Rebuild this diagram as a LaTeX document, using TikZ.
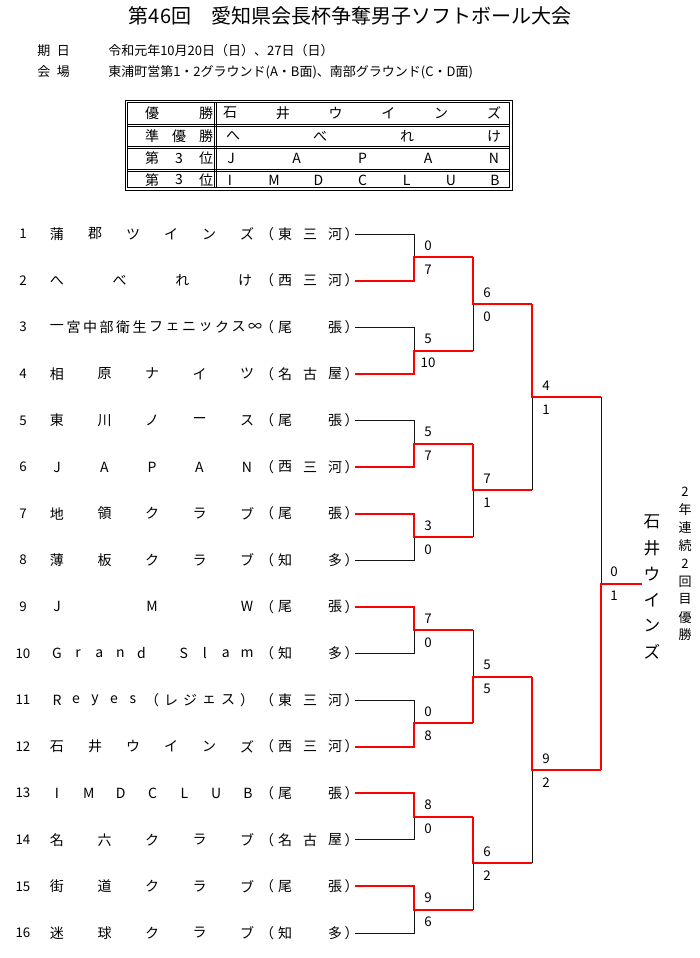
\documentclass[tikz,border=0pt]{standalone}
\usepackage{fontspec}
\setmainfont{Noto Sans CJK JP}
\usetikzlibrary{calc}
\definecolor{winred}{RGB}{255,0,0}
\definecolor{loseblk}{RGB}{20,20,20}

\newcommand\spreadtxt[6]{%
  \foreach \ch [count=\k] in {#6} {%
    \pgfmathsetmacro\tmX{#3+(\k-1)*(#4-#3)/(#2-1)}%
    \node[txt] (#1-\k) at (\tmX,#5) {\ch};
  }%
}
\newcommand\spreadvtxt[7]{%
  \foreach \ch [count=\k] in {#6} {%
    \pgfmathsetmacro\tmV{#4+(\k-1)*(#5-#4)/(#2-1)}%
    \node[#7] (#1-\k) at (#3,\tmV) {\ch};
  }%
}
\newcommand\teamrow[6]{%
  \pgfmathsetmacro\tmY{234+(#1-1)*46.6}%
  \node[num] (no#1) at (23,\tmY) {#1};
  \spreadtxt{nm#1}{#2}{57}{#3}{\tmY}{#4}
  \node[txt] (lp#1) at (267,\tmY) {（};
  \spreadtxt{rg#1}{#5}{285}{335}{\tmY}{#6}
  \node[txt] (rp#1) at (351.5,\tmY) {）};
}

\begin{document}
\begin{tikzpicture}[x=0.75pt,y=-0.75pt,
  txt/.style={font=\fontsize{10.5}{12}\selectfont, inner sep=0pt, anchor=center},
  info/.style={font=\fontsize{9.75}{12}\selectfont, inner sep=0pt, anchor=west},
  num/.style={font=\fontsize{10}{12}\selectfont, inner sep=0pt},
  score/.style={font=\fontsize{10}{12}\selectfont, inner sep=0pt},
  champ/.style={font=\fontsize{12.5}{14}\selectfont, inner sep=0pt},
  note/.style={font=\fontsize{9.75}{12}\selectfont, inner sep=0pt},
  lose/.style={draw=loseblk, line width=0.75pt},
  win/.style={draw=winred, line width=1.5pt},
  tbl/.style={draw=black, line width=0.6pt},
]
\useasboundingbox (0,0) rectangle (700,958);

% Title and info
\node[font=\fontsize{15}{18}\selectfont, inner sep=0pt] (title) at (350,16) {第46回　愛知県会長杯争奪男子ソフトボール大会};
\node[info] (lbl1) at (37,51) {期\hspace{5pt}日};
\node[info] (val1) at (108,51) {令和元年10月20日（日）、27日（日）};
\node[info] (lbl2) at (37,72) {会\hspace{5pt}場};
\node[info] (val2) at (108,72) {東浦町営第1・2グラウンド(A・B面)、南部グラウンド(C・D面)};

% Results table
\draw[tbl] (125,100) rectangle (512,190);
\draw[tbl] (127.5,102.5) rectangle (509.5,187.5);
\foreach \yy in {124,126.5,146,148.5,169,171.5} { \draw[tbl] (127.5,\yy) -- (509.5,\yy); }
\foreach \xx in {214,216.5} { \draw[tbl] (\xx,102.5) -- (\xx,187.5); }
\node[txt] (r1a) at (152,113) {優};
\node[txt] (r1b) at (206,113) {勝};
\node[txt] (r2a) at (152,136) {準};
\node[txt] (r2b) at (179,136) {優};
\node[txt] (r2c) at (206,136) {勝};
\node[txt] (r3a) at (152,158.5) {第};
\node[txt] (r3b) at (179,158.5) {3};
\node[txt] (r3c) at (206,158.5) {位};
\node[txt] (r4a) at (152,180) {第};
\node[txt] (r4b) at (179,180) {3};
\node[txt] (r4c) at (206,180) {位};
\spreadtxt{v1}{6}{230}{494}{113}{石,井,ウ,イ,ン,ズ}
\spreadtxt{v2}{4}{233}{494}{136}{へ,べ,れ,け}
\spreadtxt{v3}{5}{231}{494}{158.5}{J,A,P,A,N}
\spreadtxt{v4}{7}{230}{495}{180}{I,M,D,C,L,U,B}

% Teams
\teamrow{1}{6}{247}{蒲,郡,ツ,イ,ン,ズ}{3}{東,三,河}
\teamrow{2}{4}{245}{へ,べ,れ,け}{3}{西,三,河}
\teamrow{3}{13}{255}{一,宮,中,部,衛,生,フ,ェ,ニ,ッ,ク,ス,∞}{2}{尾,張}
\teamrow{4}{5}{247}{相,原,ナ,イ,ツ}{3}{名,古,屋}
\teamrow{5}{5}{247}{東,川,ノ,ー,ス}{2}{尾,張}
\teamrow{6}{5}{247}{J,A,P,A,N}{3}{西,三,河}
\teamrow{7}{5}{247}{地,領,ク,ラ,ブ}{2}{尾,張}
\teamrow{8}{5}{247}{薄,板,ク,ラ,ブ}{2}{知,多}
\teamrow{9}{3}{247}{J,M,W}{2}{尾,張}
% row 10
\node[num] (no10) at (23,653.4) {10};
\spreadtxt{nm10a}{5}{57}{141.4}{653.4}{G,r,a,n,d}
\spreadtxt{nm10b}{4}{183.7}{247}{653.4}{S,l,a,m}
\node[txt] (lp10) at (267,653.4) {（};
\spreadtxt{rg10}{2}{285}{335}{653.4}{知,多}
\node[txt] (rp10) at (351.5,653.4) {）};
\teamrow{11}{11}{247}{R,e,y,e,s,（,レ,ジ,ェ,ス,）}{3}{東,三,河}
\teamrow{12}{6}{247}{石,井,ウ,イ,ン,ズ}{3}{西,三,河}
\teamrow{13}{7}{248}{I,M,D,C,L,U,B}{2}{尾,張}
\teamrow{14}{5}{247}{名,六,ク,ラ,ブ}{3}{名,古,屋}
\teamrow{15}{5}{247}{街,道,ク,ラ,ブ}{2}{尾,張}
\teamrow{16}{5}{247}{迷,球,ク,ラ,ブ}{2}{知,多}

% Bracket coordinates
\foreach \i in {1,...,16} {
  \pgfmathsetmacro\tmY{234+(\i-1)*46.6}
  \coordinate (a\i) at (355,\tmY);
  \coordinate (b\i) at (414,\tmY);
}
\foreach \k in {1,...,8} {
  \pgfmathsetmacro\tmY{234+(2*\k-1.5)*46.6}
  \coordinate (m\k) at (414,\tmY);
  \coordinate (mo\k) at (473,\tmY);
}
\foreach \k in {1,...,4} {
  \pgfmathsetmacro\tmY{234+(4*\k-2.5)*46.6}
  \coordinate (q\k) at (473,\tmY);
  \coordinate (qo\k) at (532,\tmY);
}
\foreach \k in {1,2} {
  \pgfmathsetmacro\tmY{234+(8*\k-4.5)*46.6}
  \coordinate (s\k) at (532,\tmY);
  \coordinate (so\k) at (601,\tmY);
}
\coordinate (f) at (601,583.5);
\coordinate (fo) at (642,583.5);

% Losing paths (black)
\foreach \t/\k in {1/1,3/2,5/3,8/4,10/5,11/6,14/7,16/8} {
  \draw[lose] (a\t) -- (b\t) -- (m\k);
}
\draw[lose] (mo2) -- (q1);
\draw[lose] (mo4) -- (q2);
\draw[lose] (mo5) -- (q3);
\draw[lose] (mo8) -- (q4);
\draw[lose] (qo2) -- (s1);
\draw[lose] (qo4) -- (s2);
\draw[lose] (so1) -- (f);

% Winning paths (red)
\foreach \t/\k in {2/1,4/2,6/3,7/4,9/5,12/6,13/7,15/8} {
  \draw[win] (a\t) -- (b\t) -- (m\k) -- (mo\k);
}
\draw[win] (mo1) -- (q1) -- (qo1);
\draw[win] (mo3) -- (q2) -- (qo2);
\draw[win] (mo6) -- (q3) -- (qo3);
\draw[win] (mo7) -- (q4) -- (qo4);
\draw[win] (qo1) -- (s1) -- (so1);
\draw[win] (qo3) -- (s2) -- (so2);
\draw[win] (so2) -- (f) -- (fo);

% Scores
\foreach \k/\u/\l in {1/0/7,2/5/10,3/5/7,4/3/0,5/7/0,6/0/8,7/8/0,8/9/6} {
  \node[score] (smu\k) at ($(m\k)+(14,-11.5)$) {\u};
  \node[score] (sml\k) at ($(m\k)+(14,12.5)$) {\l};
}
\foreach \k/\u/\l in {1/6/0,2/7/1,3/5/5,4/6/2} {
  \node[score] (squ\k) at ($(q\k)+(14,-11.5)$) {\u};
  \node[score] (sql\k) at ($(q\k)+(14,12.5)$) {\l};
}
\foreach \k/\u/\l in {1/4/1,2/9/2} {
  \node[score] (ssu\k) at ($(s\k)+(14,-11.5)$) {\u};
  \node[score] (ssl\k) at ($(s\k)+(14,12.5)$) {\l};
}
\node[score] (sfu) at ($(f)+(13,-11.5)$) {0};
\node[score] (sfl) at ($(f)+(13,12.5)$) {1};

% Champion (vertical)
\spreadvtxt{ch}{6}{652}{522}{652}{石,井,ウ,イ,ン,ズ}{champ}
\spreadvtxt{nt}{9}{685}{492}{635}{2,年,連,続,2,回,目,優,勝}{note}
\end{tikzpicture}
\end{document}
